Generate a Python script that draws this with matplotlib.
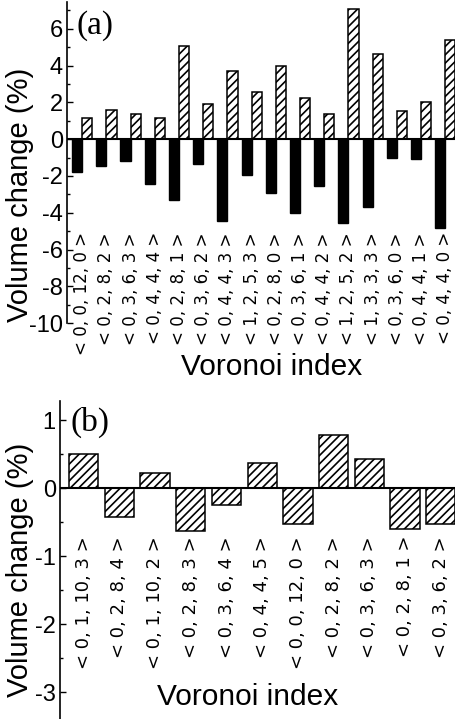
import matplotlib.pyplot as plt
from matplotlib.ticker import MultipleLocator

plt.rcParams['font.family'] = ['Liberation Sans', 'DejaVu Sans']
plt.rcParams['axes.unicode_minus'] = False
plt.rcParams['hatch.linewidth'] = 1.2

# panel (a): Voronoi indices, expansion (hatched) and contraction (black)
labels_a = ['< 0, 0, 12, 0 >', '< 0, 2, 8, 2 >', '< 0, 3, 6, 3 >', '< 0, 4, 4, 4 >',
            '< 0, 2, 8, 1 >', '< 0, 3, 6, 2 >', '< 0, 4, 4, 3 >', '< 1, 2, 5, 3 >',
            '< 0, 2, 8, 0 >', '< 0, 3, 6, 1 >', '< 0, 4, 4, 2 >', '< 1, 2, 5, 2 >',
            '< 1, 3, 3, 3 >', '< 0, 3, 6, 0 >', '< 0, 4, 4, 1 >', '< 0, 4, 4, 0 >']
pos_a = [1.16, 1.61, 1.39, 1.16, 5.08, 1.90, 3.72, 2.55,
         3.99, 2.25, 1.38, 7.09, 4.64, 1.51, 2.03, 5.40]
neg_a = [-1.79, -1.47, -1.20, -2.46, -3.29, -1.34, -4.47, -1.96,
         -2.90, -4.00, -2.57, -4.54, -3.71, -1.03, -1.07, -4.80]

# panel (b)
labels_b = ['< 0, 1, 10, 3 >', '< 0, 2, 8, 4 >', '< 0, 1, 10, 2 >', '< 0, 2, 8, 3 >',
            '< 0, 3, 6, 4 >', '< 0, 4, 4, 5 >', '< 0, 0, 12, 0 >', '< 0, 2, 8, 2 >',
            '< 0, 3, 6, 3 >', '< 0, 2, 8, 1 >', '< 0, 3, 6, 2 >']
vals_b = [0.50, -0.42, 0.225, -0.62, -0.24, 0.38, -0.52, 0.79, 0.43, -0.59, -0.52]

W, H = 455, 719
fig = plt.figure(figsize=(W / 100, H / 100), dpi=100)


def style_axis(ax, major, minor, pad, lsize):
    for s in ['top', 'right', 'bottom']:
        ax.spines[s].set_visible(False)
    ax.spines['left'].set_linewidth(1.2)
    ax.axhline(0, color='black', lw=1.5, zorder=3)
    ax.yaxis.set_major_locator(MultipleLocator(major))
    ax.yaxis.set_minor_locator(MultipleLocator(minor))
    ax.tick_params(axis='y', which='major', direction='in', length=4.5, width=1.0,
                   labelsize=17, pad=3)
    ax.tick_params(axis='y', which='minor', direction='in', length=2.5, width=1.0)
    ax.tick_params(axis='x', length=0, pad=pad, labelrotation=90, labelsize=lsize)
    for t in ax.get_xticklabels():
        t.set_fontfamily('DejaVu Sans')
        t.set_verticalalignment('top')


# ---- (a)
ax1 = fig.add_axes([67 / W, 1 - 323.3 / H, 1 - 67 / W, (323.3 - 2) / H])
xa = list(range(len(labels_a)))
bw = 0.42
ax1.bar([x - bw / 2 for x in xa], neg_a, width=bw, color='black', edgecolor='black', lw=1.0)
ax1.bar([x + bw / 2 for x in xa], pos_a, width=bw, color='white', edgecolor='black',
        lw=1.1, hatch='////')
ax1.set_xlim(-0.63, 15.40)
ax1.set_ylim(-10, 7.45)
ax1.set_xticks(xa, labels_a)
style_axis(ax1, 2, 1, -65.7, 12)

# ---- (b)
ax2 = fig.add_axes([60 / W, 0, 1 - 60 / W, (719 - 400.7) / H])
xb = list(range(len(labels_b)))
ax2.bar(xb, vals_b, width=0.82, color='white', edgecolor='black', lw=1.1, hatch='////')
ax2.set_xlim(-0.664, 10.40)
ax2.set_ylim(-3.39, 1.29)
ax2.set_xticks(xb, labels_b)
style_axis(ax2, 1, 0.5, -131.8, 13)

# axis titles and panel letters
for yc in [195, 570]:
    fig.text(20 / W, 1 - yc / H, 'Volume change (%)', rotation=90, fontsize=21,
             ha='center', va='center')
fig.text(271.5 / W, 1 - 366.7 / H, 'Voronoi index', fontsize=21.5, ha='center', va='center')
fig.text(248 / W, 1 - 696.7 / H, 'Voronoi index', fontsize=21.5, ha='center', va='center')
fig.text(76 / W, 1 - 26 / H, '(a)', fontsize=24, family='Liberation Serif',
         ha='left', va='center')
fig.text(71 / W, 1 - 422 / H, '(b)', fontsize=24, family='Liberation Serif',
         ha='left', va='center')

fig.savefig('out.png', dpi=100)
